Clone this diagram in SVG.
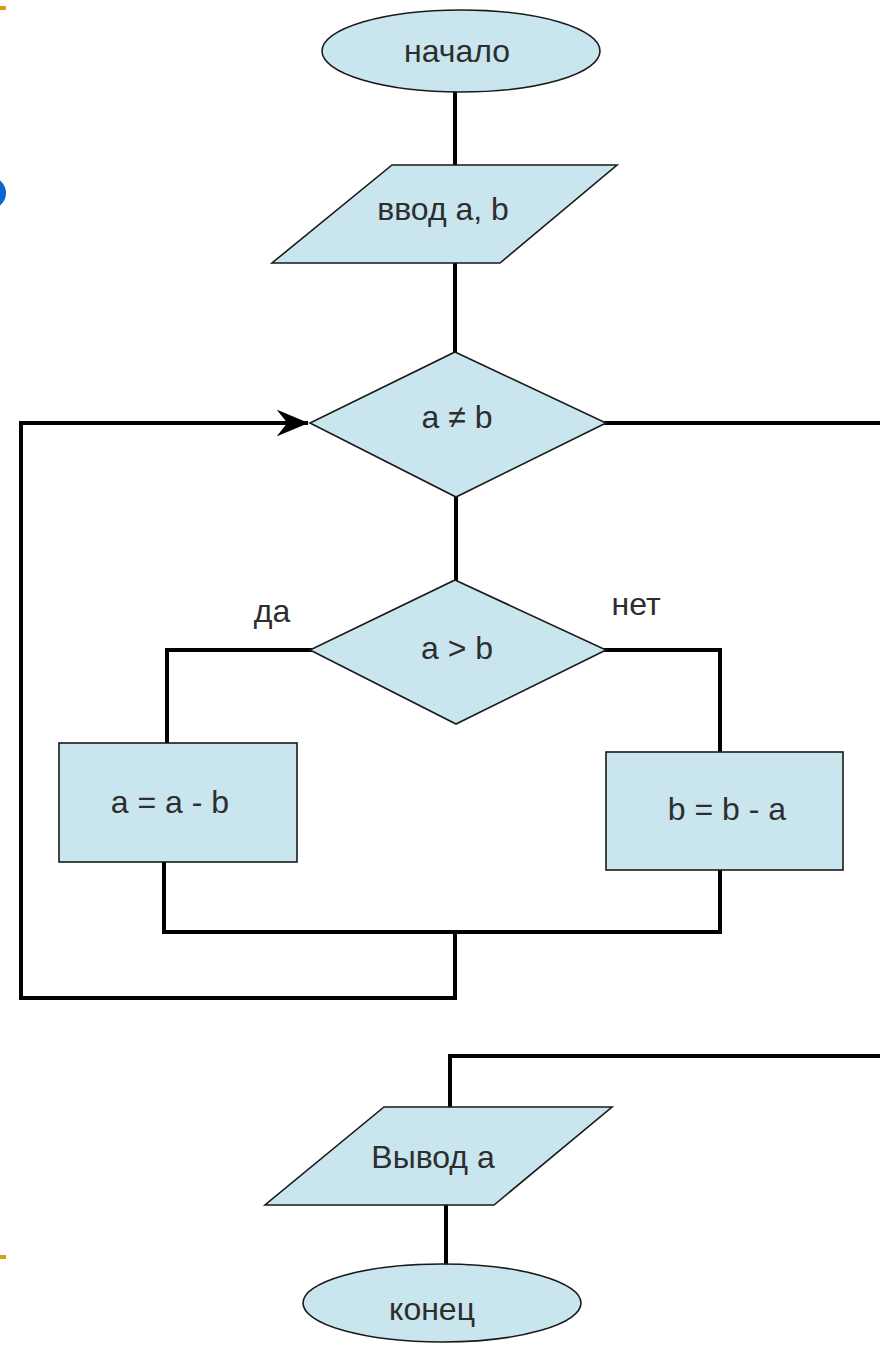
<svg xmlns="http://www.w3.org/2000/svg" width="880" height="1348" viewBox="0 0 880 1348">
  <style>
    .shape { fill: #c9e6ef; stroke: #1a1a1a; stroke-width: 1.6; }
    .wire { fill: none; stroke: #000; stroke-width: 4; stroke-linejoin: miter; stroke-linecap: square; }
    .lbl { font-family: "Liberation Sans", Arial, sans-serif; font-size: 32px; fill: #2e2e2e; text-anchor: middle; }
  </style>
  <defs>
    <marker id="arrow" viewBox="0 0 12 12" refX="11" refY="6" markerWidth="8" markerHeight="8" markerUnits="strokeWidth" orient="auto">
      <path d="M0,1 L12,6 L0,11 L4,6 Z" fill="#000"/>
    </marker>
  </defs>
  <rect x="0" y="0" width="880" height="1348" fill="#fff"/>

  <!-- slide decorations at the left edge -->
  <rect x="0" y="6" width="6" height="4" fill="#d4a017"/>
  <rect x="0" y="1255" width="6" height="4" fill="#d4a017"/>
  <circle cx="-10" cy="193" r="16" fill="#0a66d0"/>

  <!-- connectors -->
  <g id="connectors">
    <path class="wire" d="M455,90 V165"/>
    <path class="wire" d="M455,263 V352"/>
    <path class="wire" d="M456,497 V580"/>
    <path class="wire" d="M310,650 H167 V743"/>
    <path class="wire" d="M606,650 H720 V752"/>
    <path class="wire" d="M164,862 V932 H720 V870"/>
    <path class="wire" d="M455,932 V998 H21 V423 H306" marker-end="url(#arrow)"/>
    <path class="wire" d="M606,423 H884"/>
    <path class="wire" d="M884,1056 H450 V1107"/>
    <path class="wire" d="M446,1205 V1265"/>
  </g>

  <g id="start">
    <ellipse class="shape" cx="461" cy="51" rx="139" ry="41"/>
    <text class="lbl" x="457" y="62">начало</text>
  </g>

  <g id="input">
    <polygon class="shape" points="392,165 617,165 500,263 272,263"/>
    <text class="lbl" x="443" y="220">ввод a, b</text>
  </g>

  <g id="loop-check">
    <polygon class="shape" points="455,352 606,423 456,497 310,423"/>
    <text class="lbl" x="457" y="428">a ≠ b</text>
  </g>

  <g id="compare">
    <polygon class="shape" points="455,580 606,650 456,724 310,650"/>
    <text class="lbl" x="457" y="659">a &gt; b</text>
  </g>

  <g id="label-yes">
    <text class="lbl" x="272" y="622">да</text>
  </g>
  <g id="label-no">
    <text class="lbl" x="636" y="615">нет</text>
  </g>

  <g id="sub-a">
    <rect class="shape" x="59" y="743" width="238" height="119"/>
    <text class="lbl" x="170" y="813">a = a - b</text>
  </g>

  <g id="sub-b">
    <rect class="shape" x="606" y="752" width="237" height="118"/>
    <text class="lbl" x="727" y="820">b = b - a</text>
  </g>

  <g id="output">
    <polygon class="shape" points="384,1107 612,1107 494,1205 265,1205"/>
    <text class="lbl" x="433" y="1168">Вывод a</text>
  </g>

  <g id="end">
    <ellipse class="shape" cx="442" cy="1303" rx="139" ry="39"/>
    <text class="lbl" x="432" y="1320">конец</text>
  </g>
</svg>
